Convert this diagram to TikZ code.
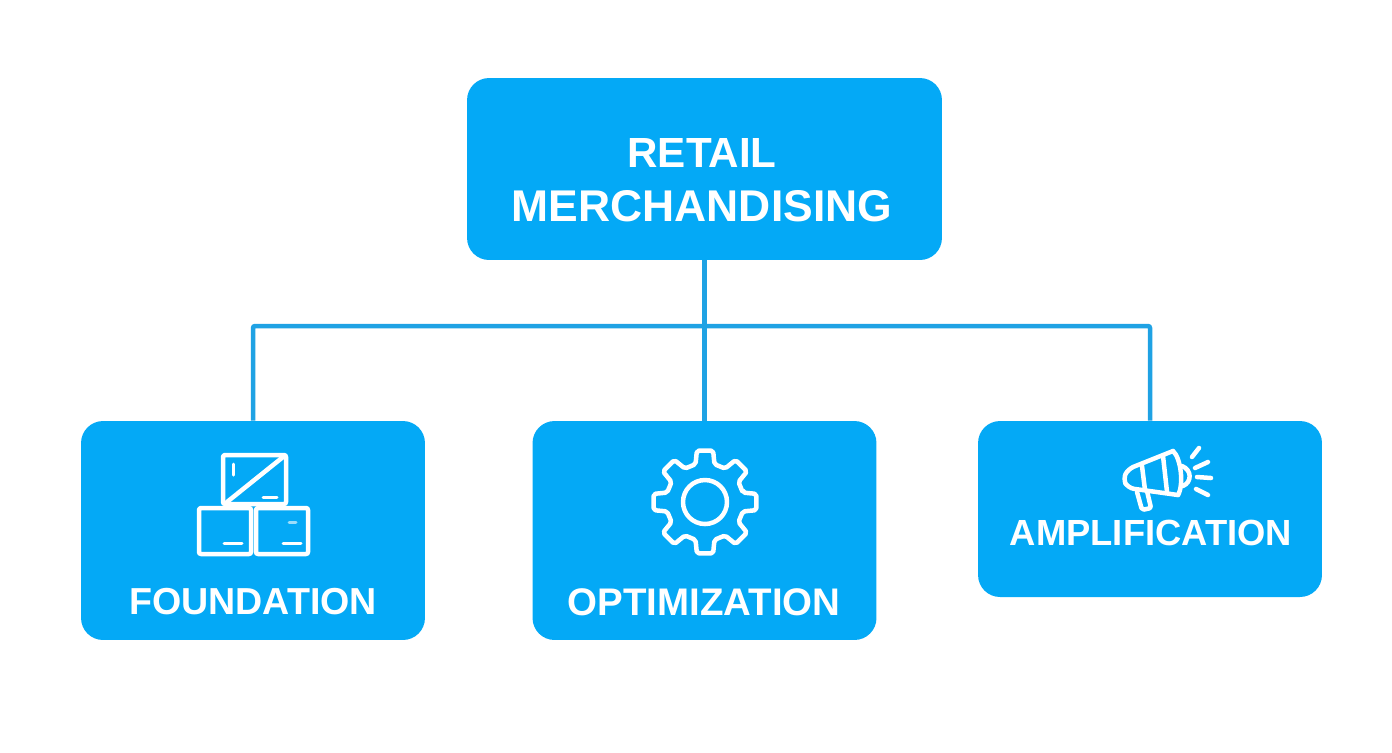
\documentclass[tikz,border=0pt]{standalone}
\usepackage{fontspec}
\setmainfont{Liberation Sans}
\definecolor{boxblue}{HTML}{04A9F6}
\definecolor{wireblue}{HTML}{1FA2E4}
\tikzset{
    card/.style = {fill = boxblue, rounded corners = 0.44cm, inner sep = 0pt},
    wire/.style = {draw = wireblue, line width = 0.09cm, rounded corners = 0.04cm},
    caption/.style = {text = white, inner sep = 0pt},
    icon/.style = {draw = white, line width = 0.09cm, line cap = round, line join = round, rounded corners = 0.04cm}
}
\begin{document}
\begin{tikzpicture}[x = 0.02cm, y = -0.02cm]
    \useasboundingbox (0,0) rectangle (1392,752);
    % boxes
    \node[card, minimum width = 9.5cm, minimum height = 3.64cm] at (704.5,169) (retail) {};
    \node[card, minimum width = 6.88cm, minimum height = 4.38cm] at (253,530.5) (foundation) {};
    \node[card, minimum width = 6.88cm, minimum height = 4.38cm] at (704.5,530.5) (optimization) {};
    \node[card, minimum width = 6.88cm, minimum height = 3.52cm] at (1150,509) (amplification) {};
    % captions
    \node[caption, align = center, font = \bfseries\fontsize{25.3}{30.6}\selectfont] at (702,180) (retailtext) {\fontsize{24}{30.6}\selectfont RETAIL\\MERCHANDISING};
    \node[caption, font = \bfseries\fontsize{21.4}{25}\selectfont] at (253,602) (foundationtext) {FOUNDATION};
    \node[caption, font = \bfseries\fontsize{21.9}{25}\selectfont] at (704,602) (optimizationtext) {OPTIMIZATION};
    \node[caption, font = \bfseries\fontsize{20.7}{25}\selectfont] at (1151,533) (amplificationtext) {AMPLIFICATION};
    % connectors
    \coordinate (bus) at (704.5,326);
    \draw[wire] (retail.south) -- (optimization.north);
    \draw[wire] (bus) -| (foundation.north);
    \draw[wire] (bus) -| (amplification.north);
    % crates
    \draw[icon] (223,455) rectangle (286,504);
    \draw[icon] (199,508) rectangle (251,554);
    \draw[icon] (256,508) rectangle (308,554);
    \draw[icon] (227,502) -- (283,457);
    \draw[icon, line width = 0.06cm] (233,464) -- (233,475);
    \draw[icon, line width = 0.06cm] (263,497) -- (277,497);
    \draw[icon, line width = 0.06cm] (224,543) -- (242,543);
    \draw[icon, line width = 0.06cm] (283,543) -- (301,543);
    \draw[icon, line width = 0.06cm, draw = white!60!boxblue] (289,522) -- (296,522);
    % gear
    \begin{scope}[shift = {(705,502)}]
        \draw[icon] (0,0) circle (22);
        \draw[icon] (-14:39)
            \foreach \a in {0,45,...,315} {
                -- (\a-14:39) -- (\a-9:52) -- (\a+9:52) -- (\a+14:39)
            } -- cycle;
    \end{scope}
    % megaphone
    \draw[icon, rounded corners = 0.12cm] (1173,451) -- (1128,469) -- (1123,479) -- (1128,488) -- (1178,495);
    \draw[icon] (1173,451) .. controls (1181,458) and (1184,485) .. (1178,495);
    \draw[icon] (1142,466) -- (1145,490);
    \draw[icon] (1163,456) -- (1167,492);
    \draw[icon] (1182,466) .. controls (1192,470) and (1192,482) .. (1183,486);
    \draw[icon] (1137,492) -- (1142,510) -- (1151,508) -- (1147,491);
    \foreach \sx/\sy/\ex/\ey in {1192/457/1199/448, 1195/468/1208/462, 1197/477/1211/478, 1196/489/1208/495}
        \draw[icon] (\sx,\sy) -- (\ex,\ey);
\end{tikzpicture}
\end{document}
